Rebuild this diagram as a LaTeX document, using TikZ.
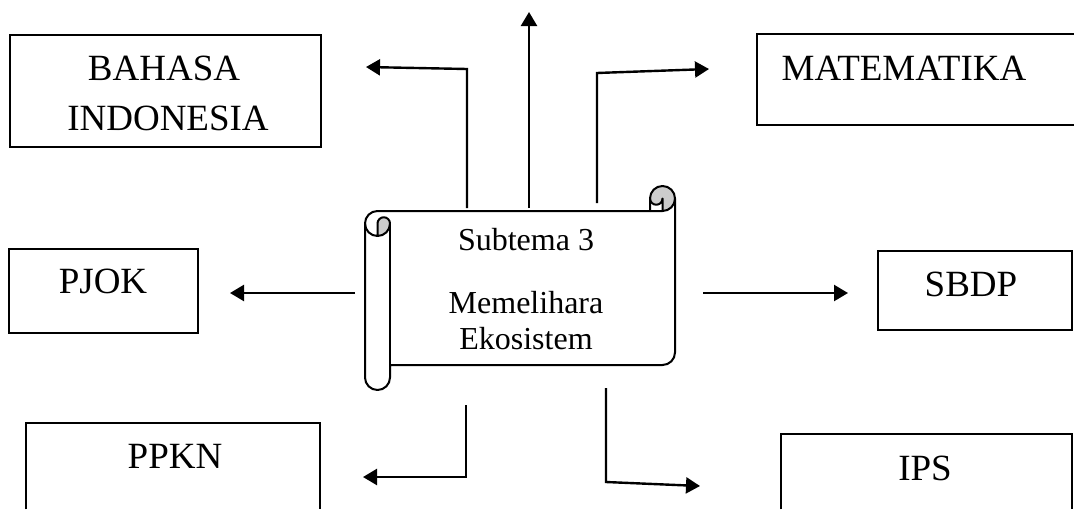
\documentclass[tikz,border=0pt]{standalone}
\usepackage{fontspec}
\setmainfont{Liberation Serif}
\usetikzlibrary{arrows.meta,fit}
\begin{document}
\begin{tikzpicture}[x=0.5pt,y=-0.5pt,
  box/.style={draw,line width=1pt,inner sep=0pt},
  openbox/.style={inner sep=0pt},
  lbl/.style={font=\fontsize{18.5}{25}\selectfont,anchor=base,inner sep=0pt},
  stxt/.style={font=\fontsize{16}{18.4}\selectfont,anchor=base,inner sep=0pt},
  conn/.style={line width=1.2pt,-{Triangle[length=7pt,width=8pt]}},
  scrollline/.style={line width=1pt,line join=round},
  curl/.style={fill=black!20}]
\useasboundingbox (0,0) rectangle (1074,509);

% subject boxes
\node[box,fit={(10,35) (321,147)}] (bi) {};
\node[openbox,fit={(757,34) (1074,125)}] (mat) {};
\draw[line width=1pt] (mat.north east) -- (mat.north west) -- (mat.south west) -- (mat.south east);
\node[box,fit={(9,249) (198,333)}] (pjok) {};
\node[box,fit={(878,251) (1072,330)}] (sbdp) {};
\node[openbox,fit={(26,423) (320,509)}] (ppkn) {};
\draw[line width=1pt] (ppkn.south west) -- (ppkn.north west) -- (ppkn.north east) -- (ppkn.south east);
\node[openbox,fit={(781,434) (1072,509)}] (ips) {};
\draw[line width=1pt] (ips.south west) -- (ips.north west) -- (ips.north east) -- (ips.south east);

% labels
\node[lbl] (t-bi1) at (164,80) {BAHASA};
\node[lbl] (t-bi2) at (168,130) {INDONESIA};
\node[lbl] (t-mat) at (904,80) {MATEMATIKA};
\node[lbl] (t-pjok) at (103,293) {PJOK};
\node[lbl] (t-sbdp) at (971,296) {SBDP};
\node[lbl] (t-ppkn) at (175,468) {PPKN};
\node[lbl] (t-ips) at (925,480) {IPS};

% scroll
\node[openbox,fit={(365,186) (675,390)}] (scroll) {};
\fill[curl] (377.5,236) -- (377.5,223.5) arc[start angle=180,delta angle=180,radius=6.25]
  arc[start angle=0,delta angle=90,radius=12.5] -- cycle;
\fill[curl] (662.5,211) arc[start angle=90,delta angle=-90,radius=12.5]
  arc[start angle=0,delta angle=-180,radius=12.5]
  arc[start angle=180,delta angle=-180,radius=6.25] -- cycle;
\draw[scrollline] (365,223.5) arc[start angle=180,delta angle=90,radius=12.5]
  -- (650,211) -- (650,198.5) arc[start angle=180,delta angle=180,radius=12.5]
  -- (675,352.5) arc[start angle=0,delta angle=90,radius=12.5]
  -- (390,365) -- (390,377.5) arc[start angle=0,delta angle=180,radius=12.5] -- cycle;
\draw[scrollline] (650,211) -- (662.5,211) arc[start angle=90,delta angle=-90,radius=12.5];
\draw[scrollline] (662.5,211) -- (662.5,198.5) arc[start angle=0,delta angle=180,radius=6.25];
\draw[scrollline] (377.5,236) -- (377.5,223.5) arc[start angle=180,delta angle=180,radius=6.25]
  arc[start angle=0,delta angle=180,radius=12.5];
\draw[scrollline] (390,223.5) -- (390,365);

\node[stxt] (t-sub) at (526,250) {Subtema 3};
\node[stxt] (t-mem) at (526,313) {Memelihara};
\node[stxt] (t-eko) at (526,349) {Ekosistem};

% connector ends
\coordinate (a1s) at (467,208); \coordinate (a1b) at (467,69); \coordinate (a1e) at (366,67);
\coordinate (a2s) at (529,208); \coordinate (a2e) at (529,12);
\coordinate (a3s) at (597,203); \coordinate (a3b) at (597,73); \coordinate (a3e) at (709,69);
\coordinate (a4s) at (355,293); \coordinate (a4e) at (230,293);
\coordinate (a5s) at (703,293); \coordinate (a5e) at (848,293);
\coordinate (a6s) at (466,405); \coordinate (a6b) at (466,477); \coordinate (a6e) at (363,477);
\coordinate (a7s) at (606,388); \coordinate (a7b) at (606,482); \coordinate (a7e) at (700,486);

\draw[conn] (a1s) -- (a1b) -- (a1e);
\draw[conn] (a2s) -- (a2e);
\draw[conn] (a3s) -- (a3b) -- (a3e);
\draw[conn] (a4s) -- (a4e);
\draw[conn] (a5s) -- (a5e);
\draw[conn] (a6s) -- (a6b) -- (a6e);
\draw[conn] (a7s) -- (a7b) -- (a7e);
\end{tikzpicture}
\end{document}
